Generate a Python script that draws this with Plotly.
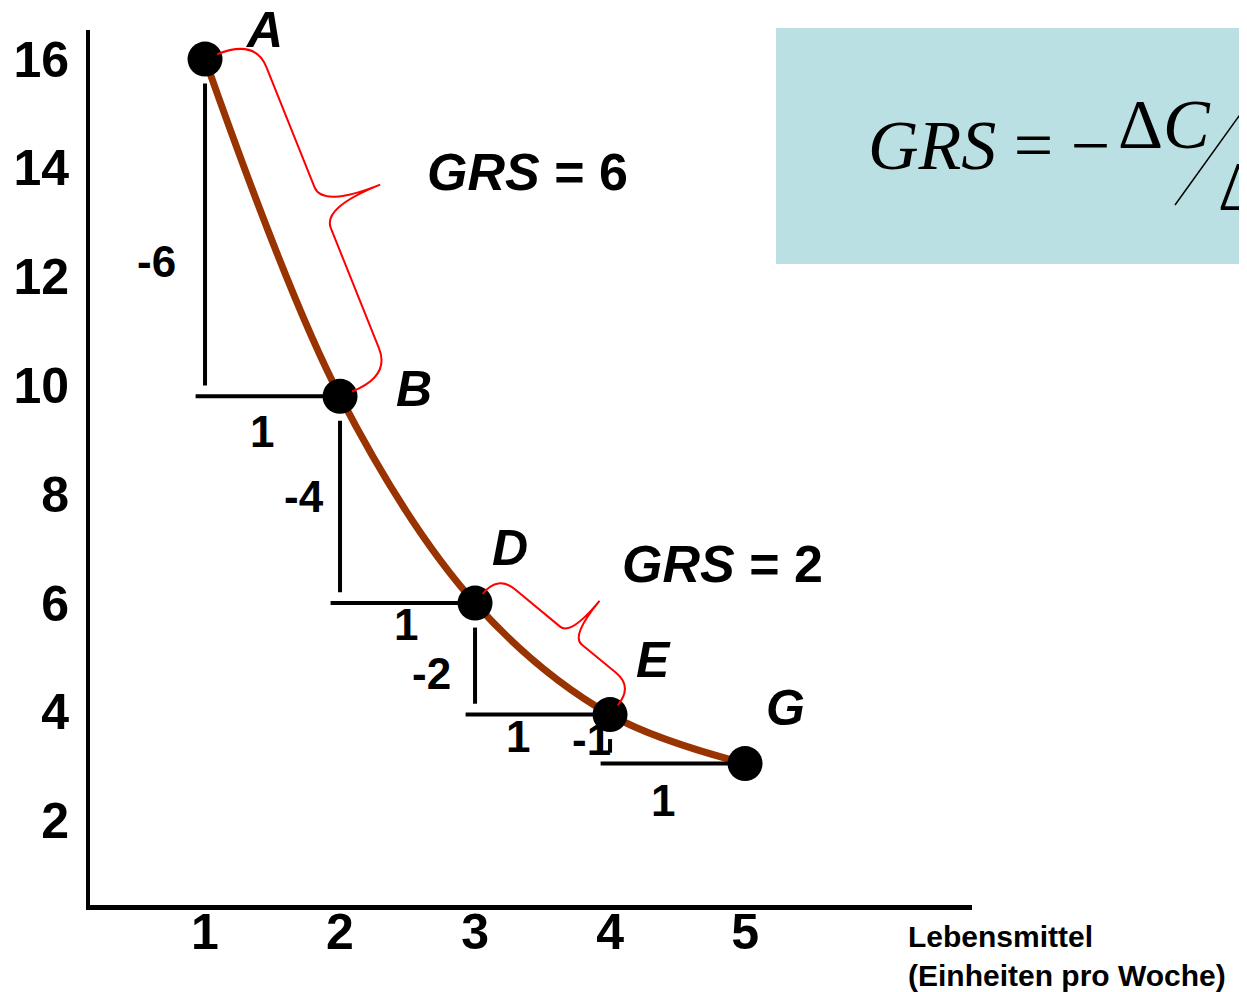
import math
import plotly.graph_objects as go

# Daten: Indifferenzkurve
points = ['A', 'B', 'D', 'E', 'G']
food = [1, 2, 3, 4, 5]
clothing = [16, 9.8, 6, 3.95, 3.05]

dy_labels = ['-6', '-4', '-2', '-1']
dx_labels = ['1', '1', '1', '1']
grs_labels = ['GRS = 6', 'GRS = 2']

x_ticks = [1, 2, 3, 4, 5]
y_ticks = [2, 4, 6, 8, 10, 12, 14, 16]

# die Seite hat 8px Rand -> Figur um 8px kleiner, alles in Bildschirmpixeln gerechnet
OFF = 8
W, H = 1247 - OFF, 992 - OFF
PX_L, PX_T, PX_R, PX_B = 90, 30, 972, 905   # Plotbereich auf dem Bildschirm
L, T = PX_L - OFF, PX_T - OFF
PW, PH = PX_R - PX_L, PX_B - PX_T
R, B = W - L - PW, H - T - PH
xr = [0.148, 6.681]
yr = [0.45, 16.535]

ARIAL = 'Liberation Sans, Arial, sans-serif'
TIMES = 'Liberation Serif, Times New Roman, serif'


def to_px(x, y):
    return (PX_L + (x - xr[0]) / (xr[1] - xr[0]) * PW,
            PX_T + (yr[1] - y) / (yr[1] - yr[0]) * PH)


def to_data(px, py):
    return (xr[0] + (px - PX_L) / PW * (xr[1] - xr[0]),
            yr[1] - (py - PX_T) / PH * (yr[1] - yr[0]))


def px2paper(px, py):
    return (px - PX_L) / PW, (PX_B - py) / PH


def brace(i, j, a, off, tip, r, r2, tip_u=0.5):
    # geschweifte Klammer zwischen zwei Punkten der Kurve (in Pixeln gebaut)
    x0, y0 = to_px(food[i], clothing[i])
    x1, y1 = to_px(food[j], clothing[j])
    ln = math.hypot(x1 - x0, y1 - y0)
    ux, uy = (x1 - x0) / ln, (y1 - y0) / ln
    nx, ny = uy, -ux

    def p(u, n):
        xx, yy = to_data(x0 + u * ux + n * nx, y0 + u * uy + n * ny)
        return f'{xx:.4f},{yy:.4f}'

    m = ln * tip_u
    return (f'M {p(0, a)} Q {p(0, off)} {p(r, off)} L {p(m - r2, off)} '
            f'Q {p(m, off)} {p(m, off + tip)} Q {p(m, off)} {p(m + r2, off)} '
            f'L {p(ln - r, off)} Q {p(ln, off)} {p(ln, a)}')


fig = go.Figure()

# Kurve
fig.add_trace(go.Scatter(x=food, y=clothing, mode='lines', line_shape='spline',
                         line=dict(color='#993300', width=7), hoverinfo='skip'))

# Stufen (-Δy, +Δx)
for i in range(len(food) - 1):
    fig.add_trace(go.Scatter(x=[food[i], food[i]],
                             y=[clothing[i] - 0.45, clothing[i + 1] + 0.2],
                             mode='lines', line=dict(color='black', width=4)))
    fig.add_trace(go.Scatter(x=[food[i] - 0.07, food[i + 1]],
                             y=[clothing[i + 1], clothing[i + 1]],
                             mode='lines', line=dict(color='black', width=4)))

# Punkte
fig.add_trace(go.Scatter(x=food, y=clothing, mode='markers',
                         marker=dict(color='black', size=35)))

annotations = []
label_off = [(0.44, 0.53), (0.55, 0.13), (0.26, 1.02), (0.32, 1.0), (0.30, 1.02)]
for name, x, y, (ox, oy) in zip(points, food, clothing, label_off):
    annotations.append(dict(x=x + ox, y=y + oy, text=f'<b><i>{name}</i></b>',
                            showarrow=False, font=dict(size=50, family=ARIAL, color='black')))

dy_pos = [(0.644, 12.28), (1.73, 7.96), (2.68, 4.71), (3.86, 3.49)]
dx_pos = [(1.42, 9.15), (2.49, 5.6), (3.32, 3.54), (4.39, 2.38)]
for t, (x, y) in zip(dy_labels, dy_pos):
    annotations.append(dict(x=x, y=y, text=f'<b>{t}</b>', showarrow=False,
                            font=dict(size=44, family=ARIAL, color='black')))
for t, (x, y) in zip(dx_labels, dx_pos):
    annotations.append(dict(x=x, y=y, text=f'<b>{t}</b>', showarrow=False,
                            font=dict(size=44, family=ARIAL, color='black')))

grs_pos = [(3.385, 13.92), (4.83, 6.71)]
for t, (x, y) in zip(grs_labels, grs_pos):
    a, b = t.split(' = ')
    annotations.append(dict(x=x, y=y, text=f'<b><i>{a}</i> = {b}</b>', showarrow=False,
                            font=dict(size=52, family=ARIAL, color='black')))

# Achsentitel
xt, yt = px2paper(906, 918)
annotations.append(dict(xref='paper', yref='paper', x=xt, y=yt, xanchor='left', yanchor='top',
                        align='left', showarrow=False,
                        text='<b>Lebensmittel<br>(Einheiten pro Woche)</b>',
                        font=dict(size=30, family=ARIAL, color='black')))
xt, yt = px2paper(28, -14)
annotations.append(dict(xref='paper', yref='paper', x=xt, y=yt, xanchor='left', yanchor='middle',
                        showarrow=False, text='<b>Kleidung (Einheiten pro Woche)</b>',
                        font=dict(size=30, family=ARIAL, color='black')))

# Formel
xt, yt = px2paper(866, 145)
annotations.append(dict(xref='paper', yref='paper', x=xt, y=yt, xanchor='left', yanchor='middle',
                        showarrow=False, text='<i>GRS</i> = −',
                        font=dict(size=70, family=TIMES, color='black')))
xt, yt = px2paper(1116, 124)
annotations.append(dict(xref='paper', yref='paper', x=xt, y=yt, xanchor='left', yanchor='middle',
                        showarrow=False, text='Δ<i>C</i>',
                        font=dict(size=70, family=TIMES, color='black')))
xt, yt = px2paper(1216, 186)
annotations.append(dict(xref='paper', yref='paper', x=xt, y=yt, xanchor='left', yanchor='middle',
                        showarrow=False, text='Δ<i>F</i>',
                        font=dict(size=70, family=TIMES, color='black')))

bx0, by0 = px2paper(776, 264)
bx1, by1 = px2paper(1300, 28)
sx0, sy0 = px2paper(1175, 205)
sx1, sy1 = px2paper(1252, 98)
shapes = [
    dict(type='rect', xref='paper', yref='paper', x0=bx0, y0=by0, x1=bx1, y1=by1,
         fillcolor='#bae0e3', line=dict(width=0), layer='below'),
    dict(type='line', xref='paper', yref='paper', x0=sx0, y0=sy0, x1=sx1, y1=sy1,
         line=dict(color='black', width=1.5)),
    dict(type='path', path=brace(0, 1, 13, 54, 62, 30, 22), line=dict(color='red', width=2)),
    dict(type='path', path=brace(2, 3, 12, 36, 45, 22, 14, 0.54), line=dict(color='red', width=2)),
]

fig.update_layout(
    width=W, height=H,
    margin=dict(l=L, r=R, t=T, b=B, autoexpand=False),
    paper_bgcolor='white', plot_bgcolor='white',
    showlegend=False,
    annotations=annotations,
    shapes=shapes,
    xaxis=dict(range=xr, tickvals=x_ticks, showgrid=False, zeroline=False,
               showline=True, linecolor='black', linewidth=5, ticks='',
               ticklabelstandoff=-21, automargin=False,
               tickfont=dict(size=50, family=ARIAL, color='black', weight='bold')),
    yaxis=dict(range=yr, tickvals=y_ticks, showgrid=False, zeroline=False,
               showline=True, linecolor='black', linewidth=4, ticks='',
               ticklabelstandoff=7, automargin=False,
               tickfont=dict(size=50, family=ARIAL, color='black', weight='bold')),
)

fig.write_html('out.html')
